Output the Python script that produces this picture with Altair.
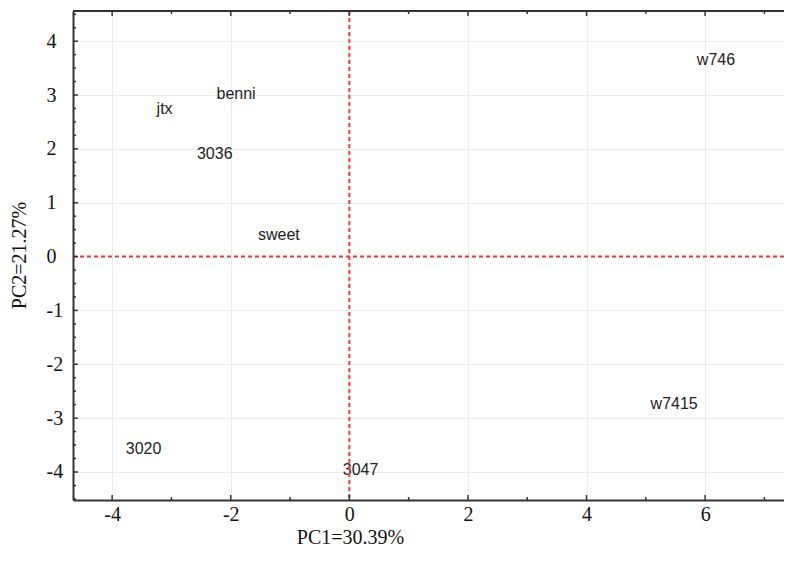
import altair as alt
import pandas as pd

# Data (label anchor = left-middle of each label)
labels = ["jtx", "benni", "3036", "sweet", "w746", "w7415", "3020", "3047"]
pc1 = [-3.25, -2.24, -2.57, -1.54, 5.86, 5.08, -3.77, -0.11]
pc2 = [2.74, 3.01, 1.90, 0.40, 3.65, -2.74, -3.57, -3.97]

x_major = [-4, -2, 0, 2, 4, 6]
x_minor = [-3, -1, 1, 3, 5, 7]
y_major = [-4, -3, -2, -1, 0, 1, 2, 3, 4]
y_minor = [v / 4 for v in range(-18, 19) if v % 4 != 0]

W, H = 711, 489
XD = [-4.66, 7.33]
YD = [-4.52, 4.56]

xs = alt.Scale(domain=XD, nice=False, zero=False)
ys = alt.Scale(domain=YD, nice=False, zero=False)

SERIF = "Liberation Serif"
SANS = "Liberation Sans"
AXC = "#333333"

neg_expr = "datum.value < 0 ? '-' + abs(datum.value) : '' + datum.value"

x_axis = alt.Axis(values=x_major, ticks=False, grid=True, gridColor="#ebebeb",
                  gridWidth=1, domainColor=AXC, domainWidth=2,
                  labelFont=SERIF, labelFontSize=20, labelColor="#111",
                  labelPadding=4, labelExpr=neg_expr,
                  title="PC1=30.39%", titleFont=SERIF, titleFontSize=20,
                  titleFontWeight="normal", titleColor="#111",
                  titleX=277, titleY=37, titleBaseline="middle")
y_axis = alt.Axis(values=y_major, ticks=False, grid=True, gridColor="#ebebeb",
                  gridWidth=1, domainColor=AXC, domainWidth=2,
                  labelFont=SERIF, labelFontSize=20, labelColor="#111",
                  labelPadding=27, labelAlign="left", labelBaseline="middle",
                  labelExpr=neg_expr,
                  title="PC2=21.27%", titleFont=SERIF, titleFontSize=20,
                  titleFontWeight="normal", titleColor="#111",
                  titleX=-44, titleY=244)


def X(field="x"):
    return alt.X(f"{field}:Q", scale=xs, axis=x_axis)


def Y(field="y"):
    return alt.Y(f"{field}:Q", scale=ys, axis=y_axis)


df = pd.DataFrame({"x": pc1, "y": pc2, "label": labels})

text = alt.Chart(df).mark_text(align="left", baseline="middle", font=SANS,
                               fontSize=16, color="#222").encode(
    x=X(), y=Y(), text="label:N",
)

red = "#f03a3a"
vline = alt.Chart(pd.DataFrame({"x": [0]})).mark_rule(
    color=red, strokeDash=[4, 3], strokeWidth=2).encode(x=X())
hline = alt.Chart(pd.DataFrame({"y": [0]})).mark_rule(
    color=red, strokeDash=[4, 3], strokeWidth=2).encode(y=Y())

top_line = alt.Chart(pd.DataFrame({"a": [0]})).mark_rule(
    color=AXC, strokeWidth=2).encode(
    y=alt.value(0), x=alt.value(0), x2=alt.value(W))


def xticks(vals, length):
    d = pd.DataFrame({"x": vals})
    bottom = alt.Chart(d).mark_rule(color=AXC, strokeWidth=1.5).encode(
        x=X(), y=alt.value(H), y2=alt.value(H - length))
    top = alt.Chart(d).mark_rule(color=AXC, strokeWidth=1.5).encode(
        x=X(), y=alt.value(0), y2=alt.value(length))
    return [bottom, top]


def yticks(vals, length):
    d = pd.DataFrame({"y": vals})
    return [alt.Chart(d).mark_rule(color=AXC, strokeWidth=1.5).encode(
        y=Y(), x=alt.value(0), x2=alt.value(length))]


layers = [text, vline, hline, top_line]
layers += xticks(x_major, 5) + xticks(x_minor, 3)
layers += yticks(y_major, 5) + yticks(y_minor, 3)

chart = alt.layer(*layers).properties(
    width=W, height=H,
    autosize=alt.AutoSizeParams(type="none"),
    padding={"left": 65, "top": 3, "right": 0, "bottom": 50},
    background="white",
).configure_view(stroke=None)

chart.save("out.html", embed_options={"renderer": "svg", "actions": False})
